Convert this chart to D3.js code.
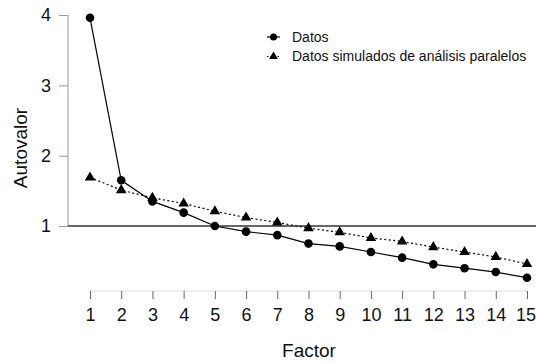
<!DOCTYPE html>
<html>
<head>
<meta charset="utf-8">
<script src="https://cdn.jsdelivr.net/npm/d3@7"></script>
<style>
  body { margin: 0; background: #fff; }
  svg { font-family: "Liberation Sans", Arial, sans-serif; }
</style>
</head>
<body>
<div id="chart"></div>
<script>
const factors = [1, 2, 3, 4, 5, 6, 7, 8, 9, 10, 11, 12, 13, 14, 15];
const datos = [3.96, 1.65, 1.35, 1.19, 1.00, 0.92, 0.87, 0.75, 0.71, 0.63, 0.55, 0.455, 0.40, 0.345, 0.265];
const simulados = [1.69, 1.51, 1.40, 1.32, 1.21, 1.12, 1.05, 0.97, 0.91, 0.83, 0.78, 0.70, 0.63, 0.56, 0.46];
const yTicks = [1, 2, 3, 4];
const legendLabels = ["Datos", "Datos simulados de análisis paralelos"];

const width = 536, height = 363;

const svg = d3.select("#chart").append("svg")
      .attr("width", width)
      .attr("height", height);

const x = d3.scaleLinear().domain([1, 15]).range([90, 527]);
const y = d3.scaleLinear().domain([1, 4]).range([226, 15]);

// y axis
const yAxis = svg.append("g")
      .attr("transform", "translate(68,0)")
      .call(d3.axisLeft(y).tickValues(yTicks).tickFormat(d3.format("d")).tickSize(9).tickPadding(8));
yAxis.select(".domain").attr("stroke", "#999").attr("d", "M0," + y(4) + "V" + y(1));
yAxis.selectAll(".tick line").attr("stroke", "#999");
yAxis.selectAll(".tick text").attr("font-size", 18).attr("fill", "#111").attr("font-family", "Liberation Sans, Arial, sans-serif");

// x axis
const xAxis = svg.append("g")
      .attr("transform", "translate(0,291)")
      .call(d3.axisBottom(x).tickValues(factors).tickFormat(d3.format("d")).tickSize(8).tickPadding(9));
xAxis.select(".domain").attr("stroke", "#ddd").attr("d", "M" + x(1) + ",0H" + x(15));
xAxis.selectAll(".tick line").attr("stroke", "#666");
xAxis.selectAll(".tick text").attr("font-size", 18).attr("fill", "#111").attr("font-family", "Liberation Sans, Arial, sans-serif");
// keep the last label inside the page
xAxis.selectAll(".tick text").filter(d => d === 15).attr("dx", -1.5);

// reference line at eigenvalue 1
svg.append("line")
      .attr("x1", 68).attr("x2", width)
      .attr("y1", y(1)).attr("y2", y(1))
      .attr("stroke", "#333").attr("stroke-width", 1.4);

// axis titles
svg.append("text")
      .attr("transform", "translate(27,148) rotate(-90)")
      .attr("text-anchor", "middle")
      .attr("font-size", 19).attr("fill", "#111")
      .text("Autovalor");
svg.append("text")
      .attr("x", 309).attr("y", 357)
      .attr("text-anchor", "middle")
      .attr("font-size", 19).attr("fill", "#111")
      .text("Factor");

const line = d3.line().x((d, i) => x(factors[i])).y(d => y(d));

// simulated series (dotted, triangles)
svg.append("path")
      .datum(simulados)
      .attr("fill", "none").attr("stroke", "#000").attr("stroke-width", 1.2)
      .attr("stroke-dasharray", "2,2.5")
      .attr("d", line);
const tri = d3.symbol().type(d3.symbolTriangle).size(48);
svg.selectAll(".tri").data(simulados).enter().append("path")
      .attr("class", "tri")
      .attr("transform", (d, i) => "translate(" + x(factors[i]) + "," + y(d) + ")")
      .attr("d", tri).attr("fill", "#000");

// observed series (solid, circles)
svg.append("path")
      .datum(datos)
      .attr("fill", "none").attr("stroke", "#000").attr("stroke-width", 1.2)
      .attr("d", line);
svg.selectAll(".dot").data(datos).enter().append("circle")
      .attr("class", "dot")
      .attr("cx", (d, i) => x(factors[i]))
      .attr("cy", d => y(d))
      .attr("r", 4.3).attr("fill", "#000");

// legend
const legend = svg.append("g").attr("transform", "translate(267,37)");
legendLabels.forEach((label, i) => {
      const g = legend.append("g").attr("transform", "translate(0," + (i * 19.5) + ")");
      g.append("line").attr("x1", 0).attr("x2", 13).attr("y1", 0).attr("y2", 0)
            .attr("stroke", "#000").attr("stroke-width", 1.2)
            .attr("stroke-dasharray", i === 0 ? null : "1.5,2");
      if (i === 0) g.append("circle").attr("cx", 6.5).attr("cy", 0).attr("r", 3.5).attr("fill", "#000");
      else g.append("path").attr("transform", "translate(6.5,0)").attr("d", d3.symbol().type(d3.symbolTriangle).size(34)).attr("fill", "#000");
      g.append("text").attr("x", 25).attr("y", 0).attr("dy", "0.35em")
            .attr("font-size", 14).attr("fill", "#111")
            .text(label);
});
</script>
</body>
</html>
